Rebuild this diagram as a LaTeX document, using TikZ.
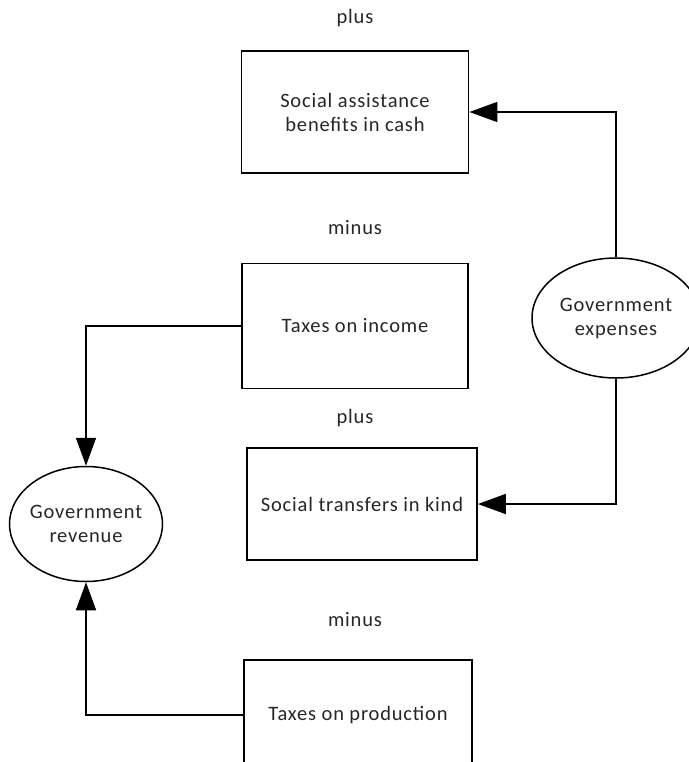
\documentclass[tikz,border=0pt]{standalone}
\usepackage{fontspec}
\setmainfont{Carlito}[LetterSpace=4]
\usetikzlibrary{positioning, shapes.geometric, arrows.meta}

\begin{document}
\begin{tikzpicture}[
    x=1pt, y=-1pt,
    every node/.style={font=\fontsize{20.5}{24}\selectfont, text=black!85},
    block/.style={rectangle, draw, line width=1.8pt, minimum width=227pt, minimum height=122pt, align=center},
    oval/.style={ellipse, draw, line width=1.5pt, inner sep=0pt, minimum width=168pt, minimum height=120pt, align=center},
    sign/.style={inner sep=0pt},
    arrow/.style={line width=1.8pt, -{Triangle[length=28pt, width=20pt]}}
    ]
    \useasboundingbox (0,0) rectangle (688,762);
    
    \node[block] (cash) at (355,112) {Social assistance\\benefits in cash};
    \node[block, minimum width=226pt, minimum height=125pt] (income) at (355,326) {Taxes on income};
    \node[block, minimum width=230pt, minimum height=112pt] (kind) at (362,504) {Social transfers in kind};
    \node[block, minimum width=228pt, minimum height=110pt] (production) at (358,715) {Taxes on production};
    
    
    \node[sign] (plus1) at (355,18) {plus};
    \node[sign] (minus1) at (355,228) {minus};
    \node[sign] (plus2) at (355,418) {plus};
    \node[sign] (minus2) at (355,620) {minus};
    
    
    \node[oval] (expenses) at (616,318) {Government\\expenses};
    \node[oval, inner xsep=-4pt, minimum width=153pt, minimum height=115pt] (revenue) at (86,524) {Government\\revenue};
    
    
    \draw[arrow] (expenses.north) |- (cash.east);
    \draw[arrow] (expenses.south) |- (kind.east);
    \draw[arrow] (income.west) -| (revenue.north);
    \draw[arrow] (production.west) -| (revenue.south);
    
\end{tikzpicture}
\end{document}
